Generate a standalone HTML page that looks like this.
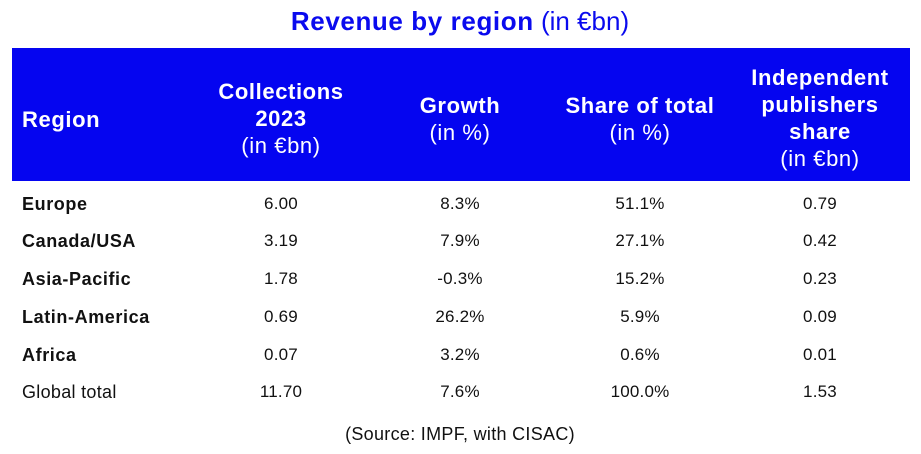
<!DOCTYPE html>
<html><head><meta charset="utf-8"><style>
body{margin:0;width:921px;height:454px;background:#fff;position:relative;font-family:"Liberation Sans",sans-serif;overflow:hidden}
.a{position:absolute;white-space:nowrap}
.c{transform:translateX(-50%);text-align:center}
.t{top:5px;left:460px;color:#0a0aee;font-size:26px;line-height:32px}
.t b{letter-spacing:0.6px}
.hd{position:absolute;left:12px;top:48px;width:898px;height:133px;background:#0505f0}
.h{color:#fff;font-size:22px;line-height:27px;font-weight:bold;letter-spacing:0.6px}
.h span{font-weight:normal;letter-spacing:0.6px}
.r{font-size:17px;line-height:20px;color:#111;letter-spacing:0.2px}
.b{font-weight:bold;font-size:18px;letter-spacing:0.6px}
</style></head><body>
<div class="a c t"><b>Revenue by region</b> (in €bn)</div>
<div class="hd"></div>
<div class="a h" style="left:22px;top:106px">Region</div>
<div class="a c h" style="left:281px;top:78px">Collections<br>2023<br><span>(in €bn)</span></div>
<div class="a c h" style="left:460px;top:92px">Growth<br><span>(in %)</span></div>
<div class="a c h" style="left:640px;top:92px">Share of total<br><span>(in %)</span></div>
<div class="a c h" style="left:820px;top:64px">Independent<br>publishers<br>share<br><span>(in €bn)</span></div>

<div class="a r b" style="left:22px;top:194px">Europe</div>
<div class="a r b" style="left:22px;top:231px">Canada/USA</div>
<div class="a r b" style="left:22px;top:269px">Asia-Pacific</div>
<div class="a r b" style="left:22px;top:307px">Latin-America</div>
<div class="a r b" style="left:22px;top:345px">Africa</div>
<div class="a r" style="left:22px;top:382px;font-size:18px;letter-spacing:0.3px">Global total</div>

<div class="a c r" style="left:281px;top:194px">6.00</div>
<div class="a c r" style="left:281px;top:231px">3.19</div>
<div class="a c r" style="left:281px;top:269px">1.78</div>
<div class="a c r" style="left:281px;top:307px">0.69</div>
<div class="a c r" style="left:281px;top:345px">0.07</div>
<div class="a c r" style="left:281px;top:382px">11.70</div>

<div class="a c r" style="left:460px;top:194px">8.3%</div>
<div class="a c r" style="left:460px;top:231px">7.9%</div>
<div class="a c r" style="left:460px;top:269px">-0.3%</div>
<div class="a c r" style="left:460px;top:307px">26.2%</div>
<div class="a c r" style="left:460px;top:345px">3.2%</div>
<div class="a c r" style="left:460px;top:382px">7.6%</div>

<div class="a c r" style="left:640px;top:194px">51.1%</div>
<div class="a c r" style="left:640px;top:231px">27.1%</div>
<div class="a c r" style="left:640px;top:269px">15.2%</div>
<div class="a c r" style="left:640px;top:307px">5.9%</div>
<div class="a c r" style="left:640px;top:345px">0.6%</div>
<div class="a c r" style="left:640px;top:382px">100.0%</div>

<div class="a c r" style="left:820px;top:194px">0.79</div>
<div class="a c r" style="left:820px;top:231px">0.42</div>
<div class="a c r" style="left:820px;top:269px">0.23</div>
<div class="a c r" style="left:820px;top:307px">0.09</div>
<div class="a c r" style="left:820px;top:345px">0.01</div>
<div class="a c r" style="left:820px;top:382px">1.53</div>

<div class="a c r" style="left:460px;top:424px;font-size:18px;letter-spacing:0.3px">(Source: IMPF, with CISAC)</div>
</body></html>
